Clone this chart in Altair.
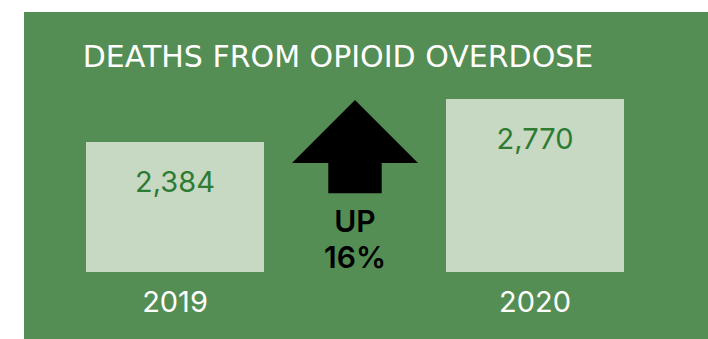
import altair as alt
import pandas as pd

# ---- data ----
years = ["2019", "2020"]
deaths = [2384, 2770]
value_labels = ["2,384", "2,770"]
change_lines = ["UP", "16%"]
title_text = "DEATHS FROM OPIOID OVERDOSE"
BASE = 1217  # visual baseline of the bars (bars do not start at zero)

# ---- styles ----
GREEN = "#548e54"
BAR = "#c8d9c3"
DARK = "#2e7b34"
FONT = "Inter"
TITLE_FONT = "DejaVu Sans"
ARROW = "M0,-0.738 L1,0.262 L0.424,0.262 L0.424,0.743 L-0.424,0.743 L-0.424,0.262 L-1,0.262 Z"

W, H = 684, 327

df = pd.DataFrame({"year": years, "deaths": deaths, "label": value_labels, "base": [BASE] * len(years)})
df_change = pd.DataFrame({"year": ["change"], "txt": ["\n".join(change_lines)]})
df_title = pd.DataFrame({"t": [title_text]})

xs = alt.Scale(type="point", domain=["2019", "change", "2020"], range=[151, 511], padding=0)
ys = alt.Scale(domain=[616, 3551], zero=False, nice=False)

x = alt.X("year:N", scale=xs, axis=None)

bars = alt.Chart(df).mark_bar(width=178, color=BAR).encode(
    x=x,
    y=alt.Y("deaths:Q", scale=ys, axis=None),
    y2="base:Q",
)

vals = alt.Chart(df).mark_text(
    font=FONT, fontSize=29, fontWeight=400, color=DARK, baseline="alphabetic", align="center", dy=50
).encode(x=x, y=alt.Y("deaths:Q", scale=ys, axis=None), text="label:N")

yrs = alt.Chart(df).mark_text(
    font=FONT, fontSize=29, fontWeight=400, color="white", baseline="alphabetic", align="center", dy=40
).encode(x=x, y=alt.Y("base:Q", scale=ys, axis=None), text="year:N")

arrow = alt.Chart(df_change).mark_point(
    shape=ARROW, size=15876, filled=True, color="black", opacity=1, strokeWidth=0
).encode(x=x, y=alt.value(134.5))

up = alt.Chart(df_change).mark_text(
    font=FONT, fontSize=30, fontWeight=600, color="black", baseline="alphabetic",
    align="center", lineBreak="\n", lineHeight=36
).encode(x=x, y=alt.value(220), text="txt:N")

title = alt.Chart(df_title).mark_text(
    font=TITLE_FONT, fontSize=30, color="white", baseline="alphabetic", align="left"
).encode(x=alt.value(58.7), y=alt.value(55), text="t:N")

chart = alt.layer(bars, vals, yrs, arrow, up, title).properties(
    width=W, height=H,
    padding={"left": 24, "top": 12, "right": 0, "bottom": 0},
    autosize=alt.AutoSizeParams(type="none"),
    background="white",
).configure_view(fill=GREEN, strokeWidth=0)

chart.save("out.html", embed_options={"renderer": "svg", "actions": False})
